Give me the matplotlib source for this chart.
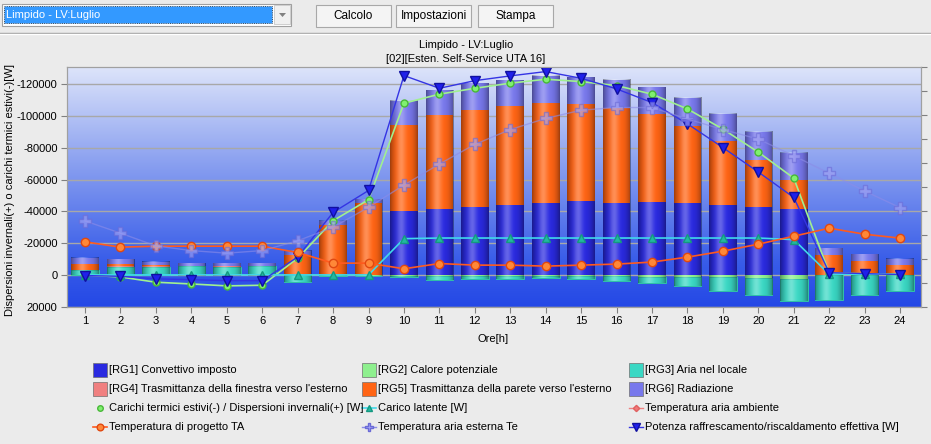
import numpy as np
import matplotlib
matplotlib.use("Agg")
import matplotlib.pyplot as plt
from matplotlib.colors import LinearSegmentedColormap
from matplotlib.patches import Rectangle, Polygon
from matplotlib.lines import Line2D

plt.rcParams['font.family'] = ['Liberation Sans', 'DejaVu Sans']
plt.rcParams['axes.unicode_minus'] = False

# ---------------- data ----------------
hours = list(range(1, 25))
hour_labels = [str(h) for h in hours]

rg1_convettivo = [0, 0, 0, 0, 0, 0, 0, 0, 0, -40400, -41400, -42700, -44100, -45400,
                  -46200, -45500, -45800, -45000, -43700, -42500, -41200, 0, 0, 0]
rg2_calore_pot = [0, 0, 0, 0, 0, 0, 0, 300, 400, 800, 900, 900, 900, 900,
                  900, 900, 1300, 1500, 1500, 1800, 2500, 0, 0, 0]
rg3_aria = [-2900, -5000, -5000, -5400, -5200, -5400, 4600, 300, 300, 500, 2200, 1400, 1400, 800,
            1400, 3100, 3700, 5700, 8800, 11000, 14100, 15500, 12400, 10300]
rg4_finestra = [-300, -300, -300, -300, -300, -300, 0, 0, 0, 0, 0, 0, 0, 0,
                0, 0, 0, 0, 0, 0, 0, 0, 0, 0]
rg5_parete = [-3900, -1800, -700, 600, 600, 600, -12700, -31400, -45200, -54000, -59300, -61100,
              -62400, -63000, -61600, -59400, -55500, -48800, -40600, -29900, -18600, -12300,
              -9000, -6500]
rg6_radiazione = [-3600, -2900, -2200, -1800, -2000, -1600, -2500, -2700, -2500, -15100, -15700,
                  -16700, -16100, -17000, -16500, -17700, -16800, -17400, -16800, -17400, -16800,
                  -4700, -4200, -3700]

carichi = [0, 1300, 4600, 5700, 6900, 6500, -10500, -34100, -47300, -108000, -113700, -117400,
           -120600, -123100, -121600, -119100, -113700, -104400, -91700, -77200, -60900, -1200,
           -700, -200]
carico_latente = [0, 0, 0, 0, 0, 0, 0, 0, 0, -22800, -23200, -23200, -23200, -23200, -23200,
                  -23200, -23200, -23200, -23200, -23200, -22200, -400, -400, -400]
potenza = [400, 900, 2500, 3000, 3600, 3600, -11300, -39300, -53100, -125400, -117400, -122200,
           -125200, -127900, -123700, -117000, -108400, -95000, -80100, -64700, -48700, -1400,
           -800, -200]

temp_ambiente = [np.nan] * 24
temp_progetto_TA = [21.77, 21.22, 21.32, 21.32, 21.32, 21.32, 20.66, 19.55, 19.55, 18.96, 19.51,
                    19.34, 19.34, 19.24, 19.34, 19.45, 19.66, 20.18, 20.8, 21.53, 22.36, 23.2,
                    22.57, 22.16]
temp_esterna_Te = [23.96, 22.68, 21.35, 20.86, 20.59, 20.86, 21.88, 23.3, 25.38, 27.7, 29.9,
                   31.95, 33.5, 34.66, 35.52, 35.8, 35.8, 34.6, 33.5, 32.5, 30.76, 28.93, 27.08,
                   25.34]

y_ticks = [-120000, -100000, -80000, -60000, -40000, -20000, 0, 20000]
y_tick_labels = ['-120000', '-100000', '-80000', '-60000', '-40000', '-20000', '0', '20000']

bar_series = [
    ('[RG1] Convettivo imposto', rg1_convettivo, '#2a2ae0'),
    ('[RG2] Calore potenziale', rg2_calore_pot, '#8ef08e'),
    ('[RG3] Aria nel locale', rg3_aria, '#3ad8c4'),
    ('[RG4] Trasmittanza della finestra verso l\'esterno', rg4_finestra, '#f08080'),
    ('[RG5] Trasmittanza della parete verso l\'esterno', rg5_parete, '#ff6414'),
    ('[RG6] Radiazione', rg6_radiazione, '#7878ec'),
]

# ---------------- figure ----------------
W, H = 931, 444
fig = plt.figure(figsize=(W / 100, H / 100), dpi=100, facecolor='#ebebeb')


def fx(x):
    return x / W


def fy(y):
    return 1 - y / H


# toolbar
fig.add_artist(Rectangle((fx(2), fy(26)), 289 / W, 22 / H, transform=fig.transFigure,
                         facecolor='white', edgecolor='#a0a0a0', lw=0.8))
fig.add_artist(Rectangle((fx(4), fy(23)), 268 / W, 17 / H, transform=fig.transFigure,
                         facecolor='#3399ff', edgecolor='#202020', lw=0.6, ls=':'))
fig.text(fx(6), fy(15), 'Limpido - LV:Luglio', color='white', fontsize=8, va='center', ha='left')
fig.add_artist(Rectangle((fx(274), fy(24)), 16 / W, 19 / H, transform=fig.transFigure,
                         facecolor='#f0f0f0', edgecolor='#c8c8c8', lw=0.6))
fig.add_artist(Polygon([[fx(279), fy(13)], [fx(286), fy(13)], [fx(282.5), fy(17)]],
                       closed=True, transform=fig.transFigure, facecolor='#808080',
                       edgecolor='none'))
for label, x0, x1 in [('Calcolo', 316, 391), ('Impostazioni', 396, 471), ('Stampa', 478, 553)]:
    fig.add_artist(Rectangle((fx(x0), fy(27)), (x1 - x0) / W, 22 / H, transform=fig.transFigure,
                             facecolor='#f4f4f4', edgecolor='#a8a8a8', lw=0.8))
    fig.text(fx((x0 + x1) / 2), fy(16), label, fontsize=8.5, ha='center', va='center')
fig.add_artist(Line2D([0, 1], [fy(33), fy(33)], transform=fig.transFigure, color='#a0a0a0', lw=1))
fig.add_artist(Line2D([0, 1], [fy(34), fy(34)], transform=fig.transFigure, color='white', lw=1))

# titles
fig.text(fx(466), fy(45), 'Limpido - LV:Luglio', fontsize=8, ha='center', va='center')
fig.text(fx(466), fy(59), '[02][Esten. Self-Service UTA 16]', fontsize=8, ha='center', va='center')
fig.text(fx(10), fy(190), 'Dispersioni invernali(+) o carichi termici estivi(-)[W]', fontsize=8,
         rotation=90, ha='center', va='center')

ax = fig.add_axes([fx(67.3), fy(306.7), (921 - 67.3) / W, (306.7 - 67.3) / H])

# background gradient
cmap = LinearSegmentedColormap.from_list('bg', [(0, '#2448e6'), (0.2, '#3a5ee9'),
                                                (0.6, '#8aa0f0'), (1.0, '#dde4fa')])
grad = np.linspace(0, 1, 256).reshape(-1, 1)
ax.imshow(grad, extent=[0, 1, 0, 1], transform=ax.transAxes, aspect='auto', cmap=cmap,
          origin='lower', zorder=0, interpolation='bilinear')

# stacked bars
width = 0.78
x = np.array(hours, dtype=float)
pos = np.zeros(24)
neg = np.zeros(24)
for name, vals, col in bar_series:
    v = np.array(vals, dtype=float)
    bottom = np.where(v >= 0, pos, neg)
    ec = '#30c8a0' if 'RG3' in name else 'none'
    ax.bar(x, v, width, bottom=bottom, color=col, edgecolor=ec, lw=0.6, zorder=2)
    pos += np.where(v > 0, v, 0)
    neg += np.where(v < 0, v, 0)

# cylinder shading
u = np.linspace(0, 1, 64)
hi = 0.28 * np.exp(-((u - 0.40) / 0.16) ** 2)
dk = 0.38 * np.abs(2 * u - 1) ** 3
img_hi = np.zeros((1, 64, 4))
img_hi[..., :3] = 1.0
img_hi[0, :, 3] = hi
img_dk = np.zeros((1, 64, 4))
img_dk[0, :, 3] = dk
for i in range(24):
    if pos[i] - neg[i] > 0:
        ext = [x[i] - width / 2, x[i] + width / 2, pos[i], neg[i]]
        ax.imshow(img_hi, extent=ext, aspect='auto', zorder=2.4, interpolation='bilinear')
        ax.imshow(img_dk, extent=ext, aspect='auto', zorder=2.5, interpolation='bilinear')

# lines on the left axis
st_carichi = dict(color='#a0f090', lw=1.2, marker='o', ms=5, mfc='#80f070', mec='#48b838')
st_latente = dict(color='#40d8ea', lw=1.2, marker='^', ms=5.5, mfc='#22b8a0', mec='#149880')
st_potenza = dict(color='#3434e4', lw=1.0, marker='v', ms=7, mfc='#2020ea', mec='#1010a0')
ax.plot(x, carichi, zorder=3, **st_carichi)
ax.plot(x, carico_latente, zorder=3.1, **st_latente)
ax.plot(x, potenza, zorder=3.2, **st_potenza)

ax.set_xlim(0.5, 24.59)
ax.set_ylim(19700, -130600)
ax.set_xticks(x)
ax.set_xticklabels(hour_labels)
ax.set_yticks(y_ticks)
ax.set_yticklabels(y_tick_labels)
ax.yaxis.grid(True, color='#a8a8a8', lw=1)
ax.set_axisbelow(True)
ax.tick_params(axis='both', length=4, color='#808080', labelsize=8, pad=3)
for sp in ax.spines.values():
    sp.set_color('#a0a0a0')
ax.set_xlabel('Ore[h]', fontsize=8, labelpad=2)
ax.xaxis.set_label_coords((493 - 67.3) / (921 - 67.3), -0.115)

# temperatures on the right axis
ax2 = ax.twinx()
st_amb = dict(color='#f08080', lw=1.0, marker='D', ms=4, mfc='#f07878', mec='#e06060')
st_ta = dict(color='#ff5a1e', lw=1.2, marker='o', ms=6, mfc='#ff8838', mec='#e04810')
st_te = dict(color='#8c8ce8', lw=1.0, marker='P', ms=8, mfc='#a4a4f4', mec='#6a6ad6')
ax2.plot(x, temp_ambiente, zorder=4, **st_amb)
ax2.plot(x, temp_progetto_TA, zorder=4, **st_ta)
ax2.plot(x, temp_esterna_Te, zorder=4, alpha=0.6, **st_te)
ax2.set_ylim(15, 40)
ax2.set_yticks(np.arange(15, 40.01, 2.5))
ax2.set_yticklabels([])
ax2.tick_params(axis='y', length=4, color='#808080')
for sp in ax2.spines.values():
    sp.set_color('#a0a0a0')

# legend (drawn manually, 3 columns x 4 rows)
col_x = [93, 362, 629]
row_y = [370, 389, 408, 427]
entries = [
    ('patch', bar_series[0][0], bar_series[0][2]),
    ('patch', bar_series[1][0], bar_series[1][2]),
    ('patch', bar_series[2][0], bar_series[2][2]),
    ('patch', bar_series[3][0], bar_series[3][2]),
    ('patch', bar_series[4][0], bar_series[4][2]),
    ('patch', bar_series[5][0], bar_series[5][2]),
    ('line', 'Carichi termici estivi(-) / Dispersioni invernali(+) [W]', st_carichi),
    ('line', 'Carico latente [W]', st_latente),
    ('line', 'Temperatura aria ambiente', st_amb),
    ('line', 'Temperatura di progetto TA', st_ta),
    ('line', 'Temperatura aria esterna Te', st_te),
    ('line', 'Potenza raffrescamento/riscaldamento effettiva [W]', st_potenza),
]
for k, (kind, label, sty) in enumerate(entries):
    cx = col_x[k % 3]
    cy = row_y[k // 3]
    if kind == 'patch':
        fig.add_artist(Rectangle((fx(cx), fy(cy + 7)), 14 / W, 14 / H, transform=fig.transFigure,
                                 facecolor=sty, edgecolor='#707070', lw=0.5))
    else:
        s = dict(sty)
        s['ms'] = s['ms'] * 0.8
        if label.startswith('Carichi'):
            s['lw'] = 0
        fig.add_artist(Line2D([fx(cx), fx(cx + 7), fx(cx + 14)], [fy(cy)] * 3,
                              transform=fig.transFigure, markevery=[1], **s))
    fig.text(fx(cx + 16), fy(cy), label, fontsize=8, ha='left', va='center')

fig.savefig('out.png', dpi=100, facecolor=fig.get_facecolor())
